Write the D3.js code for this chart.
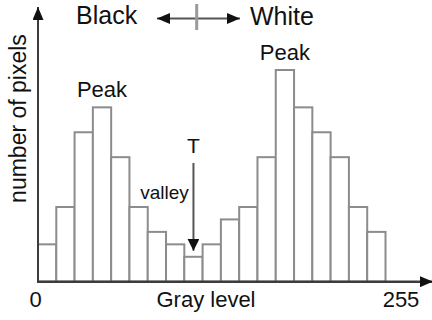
<!DOCTYPE html>
<html>
<head>
<meta charset="utf-8">
<script src="https://cdn.jsdelivr.net/npm/d3@7"></script>
<style>
  html, body { margin: 0; padding: 0; background: #fff; }
  svg { display: block; }
  text { font-family: "Liberation Sans", Arial, sans-serif; fill: #111; }
</style>
</head>
<body>
<div id="chart"></div>
<script>
// Histogram of a bimodal gray-level image (pixel counts per bin)
const bins = d3.range(19);
const counts = [3, 6, 12, 14, 10, 6, 4, 3, 2, 3, 5, 6, 10, 17, 14, 12, 10, 6, 4];
const tickLabels = [0, 255];
const peakBins = [3, 13];
const valleyBin = 8;

const W = 432, H = 320;
const svg = d3.select("#chart").append("svg").attr("width", W).attr("height", H);

const x = d3.scaleBand().domain(bins).range([38, 385.5]).padding(0);
const y = d3.scaleLinear().domain([0, 17]).range([281.7, 70]);
const gray = d3.scaleLinear().domain([0, 255]).range([35.5, 401]);

const defs = svg.append("defs");
function arrowMarker(id, w, h) {
  defs.append("marker")
    .attr("id", id).attr("viewBox", `0 0 ${w} ${h}`)
    .attr("refX", w).attr("refY", h / 2)
    .attr("markerUnits", "userSpaceOnUse")
    .attr("markerWidth", w).attr("markerHeight", h)
    .attr("orient", "auto-start-reverse")
    .append("path").attr("d", `M0,0L${w},${h / 2}L0,${h}Z`).attr("fill", "#111");
}
arrowMarker("head", 13, 11);
arrowMarker("headSmall", 12, 12);

// bars
svg.append("g").selectAll("rect").data(bins).join("rect")
  .attr("x", d => x(d))
  .attr("y", d => y(counts[d]))
  .attr("width", x.bandwidth())
  .attr("height", d => y(0) - y(counts[d]))
  .attr("fill", "#fff")
  .attr("stroke", "#8c8c8c")
  .attr("stroke-width", 2);

// axes with arrowheads
const axisCol = "#3c3c3c";
svg.append("line")
  .attr("x1", 38).attr("y1", y(0) + 1).attr("x2", 38).attr("y2", 7)
  .attr("stroke", axisCol).attr("stroke-width", 2).attr("marker-end", "url(#head)");
svg.append("line")
  .attr("x1", 37).attr("y1", y(0)).attr("x2", 433).attr("y2", y(0))
  .attr("stroke", axisCol).attr("stroke-width", 2.5).attr("marker-end", "url(#head)");

// tick labels and axis titles
svg.append("g").selectAll("text").data(tickLabels).join("text")
  .attr("x", d => gray(d)).attr("y", 307)
  .attr("text-anchor", "middle").attr("font-size", 22)
  .text(d => d);
svg.append("text").attr("x", 206).attr("y", 307)
  .attr("text-anchor", "middle").attr("font-size", 22).text("Gray level");
svg.append("text")
  .attr("transform", "translate(26,118.5) rotate(-90)")
  .attr("text-anchor", "middle").attr("font-size", 23).text("number of pixels");

// Black <-> White direction indicator
svg.append("line")
  .attr("x1", 198).attr("y1", 18.5).attr("x2", 157).attr("y2", 18.5)
  .attr("stroke", "#555").attr("stroke-width", 2).attr("marker-end", "url(#head)");
svg.append("line")
  .attr("x1", 196).attr("y1", 18.5).attr("x2", 240).attr("y2", 18.5)
  .attr("stroke", "#555").attr("stroke-width", 2).attr("marker-end", "url(#head)");
svg.append("line")
  .attr("x1", 196.7).attr("y1", 4).attr("x2", 196.7).attr("y2", 30)
  .attr("stroke", "#9a9a9a").attr("stroke-width", 3);
svg.append("text").attr("x", 76).attr("y", 24).attr("font-size", 25).text("Black");
svg.append("text").attr("x", 250).attr("y", 25).attr("font-size", 25).text("White");

// peak labels
svg.append("g").selectAll("text").data(peakBins).join("text")
  .attr("x", d => x(d) + x.bandwidth() / 2)
  .attr("y", d => y(counts[d]) - 10)
  .attr("text-anchor", "middle").attr("font-size", 22)
  .text("Peak");

// threshold T pointing at the valley bin
const vx = x(valleyBin) + x.bandwidth() / 2;
svg.append("text").attr("x", vx).attr("y", 153)
  .attr("text-anchor", "middle").attr("font-size", 21).text("T");
svg.append("line")
  .attr("x1", vx).attr("y1", 163).attr("x2", vx).attr("y2", y(counts[valleyBin]) - 6)
  .attr("stroke", "#555").attr("stroke-width", 2).attr("marker-end", "url(#headSmall)");
svg.append("text").attr("x", 164.5).attr("y", 199)
  .attr("text-anchor", "middle").attr("font-size", 19).text("valley");
</script>
</body>
</html>
